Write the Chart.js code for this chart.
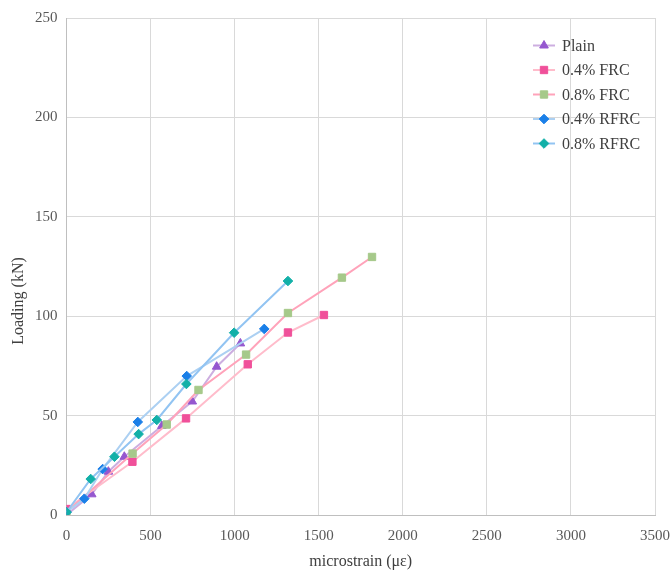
<!DOCTYPE html>
<html>
<head>
<meta charset="utf-8">
<script src="https://cdn.jsdelivr.net/npm/chart.js@4.4.1/dist/chart.umd.min.js"></script>
<style>
  html, body { margin: 0; padding: 0; background: #ffffff; }
  #wrap { width: 670px; height: 571px; position: relative; }
</style>
</head>
<body>
<div id="wrap"><canvas id="c" width="670" height="571"></canvas></div>
<script>
// Load–strain readings for each specimen series
const seriesNames = ['Plain', '0.4% FRC', '0.8% FRC', '0.4% RFRC', '0.8% RFRC'];

const plainStrain = [0, 150, 249, 344, 567, 748, 893, 1034];
const plainLoad   = [0, 10.4, 21.8, 29.3, 44.8, 57.1, 74.6, 86.3];

const frc04Strain = [0, 392, 711, 1078, 1317, 1531];
const frc04Load   = [3, 26.8, 48.6, 75.8, 91.8, 100.6];

const frc08Strain = [0, 393, 596, 785, 1068, 1317, 1638, 1817];
const frc08Load   = [1.5, 30.9, 45.5, 62.9, 80.7, 101.6, 119.4, 129.8];

const rfrc04Strain = [0, 106, 215, 424, 715, 1176];
const rfrc04Load   = [1.5, 8.2, 23.1, 46.8, 69.9, 93.6];

const rfrc08Strain = [0, 144, 285, 429, 537, 713, 997, 1317];
const rfrc08Load   = [1.4, 18.1, 29.3, 40.7, 47.8, 65.9, 91.7, 117.7];

const xTicks = [0, 500, 1000, 1500, 2000, 2500, 3000, 3500];
const yTicks = [0, 50, 100, 150, 200, 250];

const xTitle = 'microstrain (με)';
const yTitle = 'Loading (kN)';

const SERIF = '"Liberation Serif", "Times New Roman", serif';

function pts(xs, ys) { return xs.map((x, i) => ({ x: x, y: ys[i] })); }

const styles = [
  { line: '#cdaee0', mark: '#9557cf', shape: 'triangle', r: 5 },
  { line: '#ffbccb', mark: '#f0509a', shape: 'rect',     r: 5.2 },
  { line: '#ffa3ba', mark: '#a6c98a', shape: 'rect',     r: 5.2 },
  { line: '#acd0f2', mark: '#1a7fe8', shape: 'rectRot',  r: 4.8 },
  { line: '#92c4f2', mark: '#12b0a8', shape: 'rectRot',  r: 4.8 }
];

const seriesData = [
  pts(plainStrain, plainLoad),
  pts(frc04Strain, frc04Load),
  pts(frc08Strain, frc08Load),
  pts(rfrc04Strain, rfrc04Load),
  pts(rfrc08Strain, rfrc08Load)
];

const datasets = seriesNames.map((name, i) => ({
  label: name,
  data: seriesData[i],
  showLine: true,
  borderColor: styles[i].line,
  borderWidth: 2,
  tension: 0,
  pointStyle: styles[i].shape,
  pointRadius: styles[i].r,
  pointHoverRadius: styles[i].r,
  pointBackgroundColor: styles[i].mark,
  pointBorderColor: styles[i].mark,
  pointBorderWidth: 1,
  order: seriesNames.length - i   // later series are drawn on top
}));

// Legend drawn inside the plot area, plus the rotated y-axis title
const overlay = {
  id: 'overlay',
  afterDraw(chart) {
    const ctx = chart.ctx;
    ctx.save();
    // legend
    const x0 = 533, x1 = 555, tx = 562, y0 = 45.5, step = 24.5;
    ctx.font = '16px ' + SERIF;
    ctx.textBaseline = 'middle';
    ctx.textAlign = 'left';
    chart.data.datasets.forEach((ds, i) => {
      const y = y0 + i * step;
      ctx.strokeStyle = ds.borderColor;
      ctx.lineWidth = 2;
      ctx.beginPath();
      ctx.moveTo(x0, y);
      ctx.lineTo(x1, y);
      ctx.stroke();
      ctx.fillStyle = ds.pointBackgroundColor;
      ctx.strokeStyle = ds.pointBorderColor;
      ctx.lineWidth = 1;
      Chart.helpers.drawPoint(ctx, { pointStyle: ds.pointStyle, radius: ds.pointRadius, borderWidth: 1, rotation: 0 }, (x0 + x1) / 2, y);
      ctx.fillStyle = '#404040';
      ctx.fillText(ds.label, tx, y + 1);
    });
    // y-axis title
    ctx.translate(19, 301);
    ctx.rotate(-Math.PI / 2);
    ctx.textAlign = 'center';
    ctx.textBaseline = 'middle';
    ctx.fillStyle = '#404040';
    ctx.font = '16px ' + SERIF;
    ctx.fillText(yTitle, 0, 0);
    ctx.restore();
  }
};

new Chart(document.getElementById('c'), {
  type: 'scatter',
  data: { datasets: datasets },
  plugins: [overlay],
  options: {
    responsive: false,
    animation: false,
    devicePixelRatio: 1,
    layout: { padding: { left: 0, right: 15, top: 18, bottom: 0 } },
    plugins: {
      legend: { display: false },
      tooltip: { enabled: false }
    },
    scales: {
      x: {
        type: 'linear',
        min: xTicks[0],
        max: xTicks[xTicks.length - 1],
        afterBuildTicks(scale) { scale.ticks = xTicks.map(v => ({ value: v })); },
        afterFit(scale) {
          scale.height = 56;
          scale.paddingLeft = 0;
          scale.paddingRight = 0;
        },
        grid: { color: '#d9d9d9', lineWidth: 1, drawTicks: false },
        border: { color: '#bfbfbf', width: 1 },
        ticks: {
          padding: 12,
          color: '#595959',
          font: { family: SERIF, size: 15 },
          maxRotation: 0,
          callback: v => String(v)
        },
        title: {
          display: true,
          text: xTitle,
          color: '#404040',
          font: { family: SERIF, size: 16 },
          padding: { top: 2, bottom: 0 }
        }
      },
      y: {
        type: 'linear',
        min: yTicks[0],
        max: yTicks[yTicks.length - 1],
        afterBuildTicks(scale) { scale.ticks = yTicks.map(v => ({ value: v })); },
        afterFit(scale) { scale.width = 66.5; },
        grid: { color: '#d9d9d9', lineWidth: 1, drawTicks: false },
        border: { color: '#bfbfbf', width: 1 },
        ticks: {
          padding: 9,
          color: '#595959',
          font: { family: SERIF, size: 15 },
          callback: v => String(v)
        }
      }
    }
  }
});
</script>
</body>
</html>
